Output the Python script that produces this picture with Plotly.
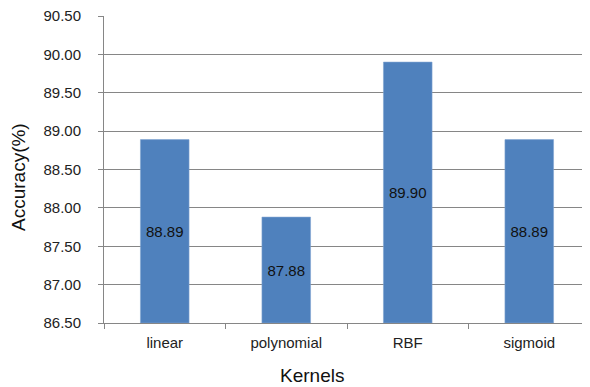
import plotly.graph_objects as go

categories = ["linear", "polynomial", "RBF", "sigmoid"]
accuracy = [88.89, 87.88, 89.90, 88.89]
y_min = 86.5
y_max = 90.5

# page body has an 8px default margin; figure is sized to end at the window edges
W, H = 582, 379
L, R, T, B = 96, 0, 8, 64
PW, PH = W - L - R, H - T - B

fig = go.Figure(go.Bar(
    x=categories,
    y=[v - y_min for v in accuracy],
    base=y_min,
    width=0.4,
    marker=dict(color="#4F81BD", line=dict(color="#7FA3D0", width=0.6)),
    text=[f"{v:.2f}" for v in accuracy],
    textposition="inside",
    insidetextanchor="middle",
    textangle=0,
    textfont=dict(family="Arial", size=15, color="#111111"),
    hovertext=[f"{v:.2f}" for v in accuracy],
))

fig.update_layout(
    width=W, height=H,
    margin=dict(l=L, r=R, t=T, b=B, autoexpand=False),
    paper_bgcolor="white", plot_bgcolor="white",
    font=dict(family="Arial", size=15, color="#222222"),
    showlegend=False,
    xaxis=dict(
        automargin=False,
        showline=True, linecolor="#868686", linewidth=1,
        ticks="outside", ticklen=5, tickcolor="#868686",
        tickson="boundaries", showgrid=False,
        tickfont=dict(size=15), ticklabelstandoff=6,
    ),
    yaxis=dict(
        automargin=False,
        range=[y_min, y_max + 0.001], dtick=0.5, tick0=y_min, tickformat=".2f",
        showline=True, linecolor="#868686", linewidth=1,
        ticks="outside", ticklen=5, tickcolor="#868686",
        showgrid=True, gridcolor="#868686", gridwidth=1,
        zeroline=False, tickfont=dict(size=15), ticklabelstandoff=14,
        ticklabeloverflow="allow",
    ),
    annotations=[
        dict(text="Kernels", xref="paper", yref="paper",
             x=(304 - L) / PW, y=-(367 - (T + PH)) / PH,
             xanchor="center", yanchor="middle", showarrow=False,
             font=dict(size=19, color="#111111")),
        dict(text="Accuracy(%)", xref="paper", yref="paper",
             x=-(L - 10) / PW, y=(T + PH - 169) / PH,
             xanchor="center", yanchor="middle", textangle=-90, showarrow=False,
             font=dict(size=19, color="#111111")),
    ],
)

fig.write_html("out.html")
